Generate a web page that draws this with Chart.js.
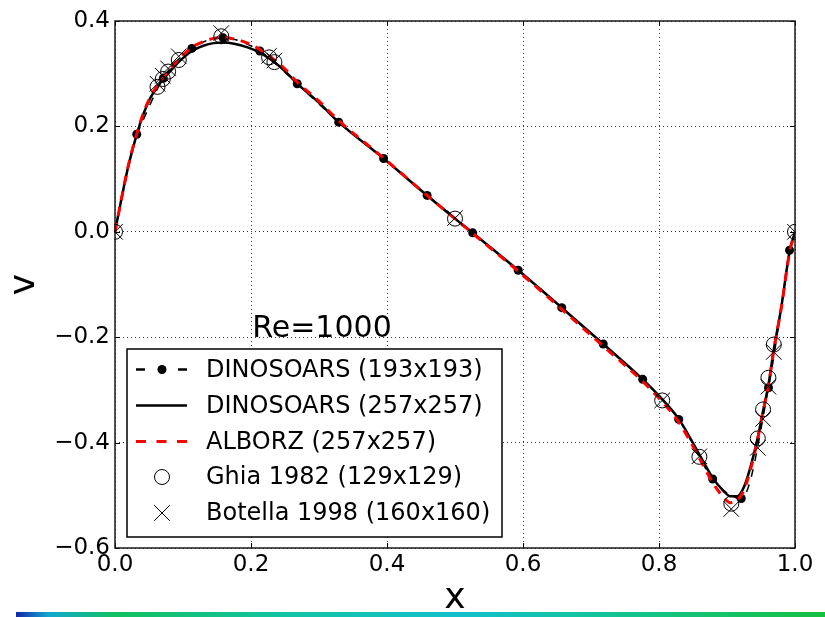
<!DOCTYPE html>
<html><head><meta charset="utf-8">
<script src="https://cdn.jsdelivr.net/npm/chart.js@4.4.1/dist/chart.umd.min.js"></script>
<style>
html,body{margin:0;padding:0;background:#fff;}
#wrap{position:relative;width:825px;height:617px;overflow:hidden;background:#fff;}
#bar{position:absolute;left:16px;top:612px;width:809px;height:5px;
background:linear-gradient(to right,#1626a8 0%,#12a8d0 4%,#12c060 12%,#12c4a8 35%,#12c0cc 55%,#12c49a 72%,#16c040 100%);}
</style></head><body>
<div id="wrap"><canvas id="c" width="825" height="617"></canvas><div id="bar"></div></div>
<script>
// ---- data ----
const dino193X = [0.032, 0.071, 0.113, 0.159, 0.213, 0.268, 0.329, 0.395, 0.459, 0.526, 0.593, 0.657, 0.718, 0.776, 0.829, 0.879, 0.921, 0.961, 0.992];
const dino193Y = [0.185, 0.291, 0.348, 0.368, 0.343, 0.281, 0.208, 0.139, 0.069, -0.002, -0.073, -0.144, -0.213, -0.280, -0.356, -0.469, -0.506, -0.296, -0.035];

const dino257X = [0.000, 0.010, 0.020, 0.032, 0.042, 0.052, 0.0625, 0.071, 0.080, 0.092, 0.113, 0.130, 0.145, 0.159, 0.175, 0.195, 0.213, 0.230, 0.250, 0.268, 0.300, 0.329, 0.395, 0.459, 0.500, 0.526, 0.593, 0.657, 0.718, 0.776, 0.805, 0.829, 0.860, 0.879, 0.895, 0.905, 0.915, 0.925, 0.935, 0.945, 0.953, 0.961, 0.969, 0.980, 0.992, 1.000];
const dino257Y = [0.000, 0.066, 0.127, 0.185, 0.224, 0.254, 0.275, 0.290, 0.303, 0.320, 0.343, 0.353, 0.358, 0.359, 0.357, 0.350, 0.340, 0.326, 0.305, 0.281, 0.245, 0.208, 0.139, 0.069, 0.025, -0.002, -0.073, -0.144, -0.213, -0.280, -0.318, -0.355, -0.424, -0.467, -0.492, -0.502, -0.502, -0.484, -0.444, -0.392, -0.340, -0.290, -0.222, -0.142, -0.038, 0.000];

const alborzX = [0.000, 0.010, 0.020, 0.032, 0.042, 0.052, 0.0625, 0.071, 0.080, 0.092, 0.113, 0.130, 0.145, 0.159, 0.175, 0.195, 0.213, 0.230, 0.250, 0.268, 0.300, 0.329, 0.395, 0.459, 0.500, 0.526, 0.593, 0.657, 0.718, 0.776, 0.805, 0.829, 0.860, 0.879, 0.895, 0.905, 0.915, 0.925, 0.935, 0.945, 0.953, 0.961, 0.969, 0.980, 0.992, 1.000];
const alborzY = [0.000, 0.066, 0.128, 0.186, 0.226, 0.256, 0.278, 0.293, 0.307, 0.325, 0.350, 0.361, 0.367, 0.369, 0.366, 0.358, 0.346, 0.331, 0.309, 0.284, 0.248, 0.211, 0.140, 0.069, 0.025, -0.003, -0.075, -0.147, -0.217, -0.284, -0.323, -0.361, -0.431, -0.476, -0.504, -0.514, -0.509, -0.490, -0.449, -0.394, -0.341, -0.291, -0.223, -0.143, -0.039, 0.000];

const ghiaX = [1.0000, 0.9688, 0.9609, 0.9531, 0.9453, 0.9063, 0.8594, 0.8047, 0.5000, 0.2344, 0.2266, 0.1563, 0.0938, 0.0781, 0.0703, 0.0625, 0.0000];
const ghiaY = [0.000, -0.214, -0.277, -0.337, -0.392, -0.516, -0.427, -0.320, 0.025, 0.322, 0.331, 0.371, 0.326, 0.304, 0.290, 0.275, 0.000];

const botellaX = [0.0000, 0.0625, 0.0703, 0.0781, 0.0938, 0.1563, 0.2266, 0.2344, 0.5000, 0.8047, 0.8594, 0.9063, 0.9453, 0.9531, 0.9609, 0.9688, 1.0000];
const botellaY = [0.000, 0.281, 0.296, 0.310, 0.333, 0.377, 0.334, 0.325, 0.026, -0.320, -0.426, -0.526, -0.410, -0.355, -0.294, -0.228, 0.000];

const xTicksMin = 0, xTicksMax = 1, yTicksMin = -0.6, yTicksMax = 0.4, tickStep = 0.2;
const legendLabels = ['DINOSOARS (193x193)', 'DINOSOARS (257x257)', 'ALBORZ (257x257)', 'Ghia 1982 (129x129)', 'Botella 1998 (160x160)'];
const annotationText = 'Re=1000';
const xTitle = 'x', yTitle = 'v';

const pts = (xs, ys) => xs.map((x, i) => ({x: x, y: ys[i]}));
const fmt = v => { if (Math.abs(v) < 1e-9) v = 0; return v.toFixed(1).replace('-', '\u2212'); };
const FONT = "'DejaVu Sans', 'Liberation Sans', sans-serif";

const overlay = {
  id: 'overlay',
  afterDatasetsDraw(chart) {
    const {ctx, chartArea: a, scales: {x, y}} = chart;
    ctx.save();
    // inward ticks
    ctx.strokeStyle = '#000'; ctx.lineWidth = 1;
    x.ticks.forEach(t => {
      const px = Math.round(x.getPixelForValue(t.value)) + 0.5;
      ctx.beginPath(); ctx.moveTo(px, a.bottom); ctx.lineTo(px, a.bottom - 5);
      ctx.moveTo(px, a.top); ctx.lineTo(px, a.top + 5); ctx.stroke();
    });
    y.ticks.forEach(t => {
      const py = Math.round(y.getPixelForValue(t.value)) + 0.5;
      ctx.beginPath(); ctx.moveTo(a.left, py); ctx.lineTo(a.left + 5, py);
      ctx.moveTo(a.right, py); ctx.lineTo(a.right - 5, py); ctx.stroke();
    });
    // frame
    ctx.strokeStyle = '#1a1a1a'; ctx.lineWidth = 1.5;
    ctx.strokeRect(a.left, a.top, a.right - a.left, a.bottom - a.top);

    // annotation
    ctx.fillStyle = '#000';
    ctx.font = '30px ' + FONT;
    ctx.textAlign = 'center'; ctx.textBaseline = 'alphabetic';
    ctx.fillText(annotationText, 322, 337);

    // legend box
    const bx = 127, by = 349, bw = 375, bh = 188;
    ctx.fillStyle = '#fff'; ctx.fillRect(bx, by, bw, bh);
    ctx.strokeStyle = '#000'; ctx.lineWidth = 1.5; ctx.strokeRect(bx, by, bw, bh);
    const rowY = [369.5, 405.5, 441.5, 477, 513];
    const l0 = 136, l1 = 187, mx = 162;
    // row 0: dashed black with dot
    ctx.strokeStyle = '#000'; ctx.lineWidth = 2.5;
    ctx.beginPath(); ctx.moveTo(l0, rowY[0]); ctx.lineTo(l0 + 9, rowY[0]);
    ctx.moveTo(l1 - 9, rowY[0]); ctx.lineTo(l1, rowY[0]); ctx.stroke();
    ctx.fillStyle = '#000'; ctx.beginPath(); ctx.arc(mx, rowY[0], 4.5, 0, Math.PI * 2); ctx.fill();
    // row 1: solid black
    ctx.beginPath(); ctx.moveTo(l0, rowY[1]); ctx.lineTo(l1, rowY[1]); ctx.stroke();
    // row 2: red dashed
    ctx.strokeStyle = '#ff0000'; ctx.lineWidth = 3; ctx.setLineDash([10, 10.5]);
    ctx.beginPath(); ctx.moveTo(l0, rowY[2]); ctx.lineTo(l1, rowY[2]); ctx.stroke();
    ctx.setLineDash([]);
    // row 3: circle
    ctx.strokeStyle = '#000'; ctx.lineWidth = 1;
    ctx.beginPath(); ctx.arc(mx, rowY[3], 7.5, 0, Math.PI * 2); ctx.stroke();
    // row 4: x
    const d = 7.8;
    ctx.beginPath(); ctx.moveTo(mx - d, rowY[4] - d); ctx.lineTo(mx + d, rowY[4] + d);
    ctx.moveTo(mx - d, rowY[4] + d); ctx.lineTo(mx + d, rowY[4] - d); ctx.stroke();
    // labels
    ctx.fillStyle = '#000'; ctx.font = '24px ' + FONT;
    ctx.textAlign = 'left'; ctx.textBaseline = 'middle';
    legendLabels.forEach((s, i) => ctx.fillText(s, 206, rowY[i] + 1));
    ctx.restore();
  }
};

new Chart(document.getElementById('c'), {
  type: 'line',
  data: {
    datasets: [
      {label: legendLabels[4], data: pts(botellaX, botellaY), showLine: false, pointStyle: 'crossRot',
       pointRadius: 11, pointBorderColor: '#000', pointBorderWidth: 1, pointBackgroundColor: 'transparent', order: 0, clip: 1},
      {label: legendLabels[3], data: pts(ghiaX, ghiaY), showLine: false, pointStyle: 'circle',
       pointRadius: 7.5, pointBorderColor: '#000', pointBorderWidth: 1, pointBackgroundColor: 'rgba(0,0,0,0)', order: 1, clip: 1},
      {label: legendLabels[2], data: pts(alborzX, alborzY), borderColor: '#ff0000', borderWidth: 3,
       borderDash: [9, 7], pointRadius: 0, cubicInterpolationMode: 'monotone', order: 2, clip: 1},
      {label: legendLabels[1], data: pts(dino257X, dino257Y), borderColor: '#000', borderWidth: 2.5,
       pointRadius: 0, cubicInterpolationMode: 'monotone', order: 3, clip: 1},
      {label: legendLabels[0], data: pts(dino193X, dino193Y), borderColor: '#000', borderWidth: 1.5,
       borderDash: [8, 8], pointRadius: 4.5, pointBackgroundColor: '#000', pointBorderColor: '#000', pointBorderWidth: 0,
       cubicInterpolationMode: 'monotone', order: 4, clip: 1}
    ]
  },
  options: {
    responsive: false, devicePixelRatio: 1, animation: false, events: [],
    layout: {padding: {top: 21, right: 30, left: 0, bottom: 0}},
    plugins: {legend: {display: false}, tooltip: {enabled: false}},
    scales: {
      x: {type: 'linear', min: xTicksMin, max: xTicksMax,
          afterFit: s => { s.height = 69; },
          ticks: {stepSize: tickStep, autoSkip: false, maxRotation: 0, padding: 3, color: '#000',
                  font: {family: FONT, size: 23}, callback: v => fmt(v)},
          grid: {color: 'rgba(0,0,0,0.8)', lineWidth: 1, drawTicks: false},
          border: {display: false, dash: [1, 3]},
          title: {display: true, text: xTitle, color: '#000', font: {family: FONT, size: 36, lineHeight: 1}, padding: {top: 0, bottom: 0}}},
      y: {type: 'linear', min: yTicksMin, max: yTicksMax,
          afterFit: s => { s.width = 115; },
          ticks: {stepSize: tickStep, autoSkip: false, padding: 5, color: '#000',
                  font: {family: FONT, size: 23}, callback: v => fmt(v)},
          grid: {color: 'rgba(0,0,0,0.8)', lineWidth: 1, drawTicks: false},
          border: {display: false, dash: [1, 3]},
          title: {display: true, text: yTitle, color: '#000', font: {family: FONT, size: 36, lineHeight: 1}, padding: {top: 7, bottom: 0}}}
    }
  },
  plugins: [overlay]
});
</script>
</body></html>
